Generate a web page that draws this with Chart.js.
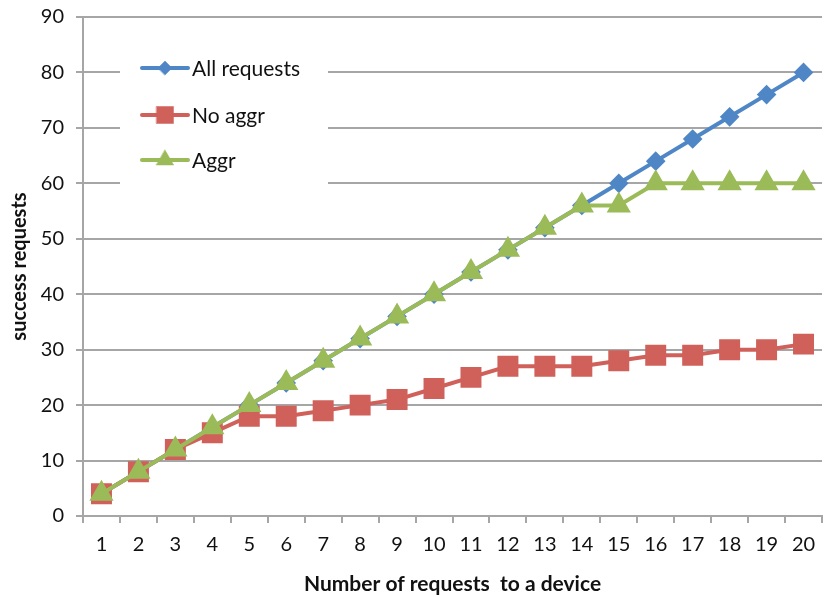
<!DOCTYPE html>
<html>
<head>
<meta charset="utf-8">
<script src="https://cdn.jsdelivr.net/npm/chart.js@4/dist/chart.umd.min.js"></script>
<style>
  html, body { margin: 0; padding: 0; background: #fff; }
  #wrap { width: 824px; height: 597px; }
</style>
</head>
<body>
<div id="wrap"><canvas id="c" width="824" height="597"></canvas></div>
<script>
// Number of requests sent to a device
const requestCounts = ['1','2','3','4','5','6','7','8','9','10','11','12','13','14','15','16','17','18','19','20'];
// Successful requests per strategy
const allRequests = [4, 8, 12, 16, 20, 24, 28, 32, 36, 40, 44, 48, 52, 56, 60, 64, 68, 72, 76, 80];
const noAggr      = [4, 8, 12, 15, 18, 18, 19, 20, 21, 23, 25, 27, 27, 27, 28, 29, 29, 30, 30, 31];
const aggr        = [4, 8, 12, 16, 20, 24, 28, 32, 36, 40, 44, 48, 52, 56, 56, 60, 60, 60, 60, 60];
const seriesNames = ['All requests', 'No aggr', 'Aggr'];
const yTicks = [0, 10, 20, 30, 40, 50, 60, 70, 80, 90];

const BLUE = '#4f86c6', RED = '#d0605a', GREEN = '#9bbb59';
const FONT = 'Lato, "Open Sans", sans-serif';
const GRID = '#a6a6a6';

// Boxed legend drawn inside the plot area, over the gridlines
const insideLegend = {
  id: 'insideLegend',
  beforeDatasetsDraw(chart) {
    const ctx = chart.ctx;
    ctx.save();
    ctx.fillStyle = '#fff';
    ctx.fillRect(120, 38, 208, 156);
    const rows = [68, 115, 160];
    chart.data.datasets.forEach((ds, i) => {
      const y = rows[i];
      ctx.strokeStyle = ds.borderColor;
      ctx.lineWidth = 4;
      ctx.lineCap = 'round';
      ctx.beginPath();
      ctx.moveTo(142, y);
      ctx.lineTo(188, y);
      ctx.stroke();
      ctx.fillStyle = ds.pointBackgroundColor;
      ctx.strokeStyle = ds.pointBackgroundColor;
      ctx.lineWidth = 0.5;
      Chart.helpers.drawPoint(ctx, {
        pointStyle: ds.pointStyle,
        rotation: 0,
        radius: ds.pointRadius,
        borderWidth: 0.5
      }, 165, y);
      ctx.fillStyle = '#111';
      ctx.font = '21px ' + FONT;
      ctx.textBaseline = 'middle';
      ctx.textAlign = 'left';
      ctx.fillText(ds.label, 192, y + 1);
    });
    ctx.restore();
  }
};

new Chart(document.getElementById('c'), {
  type: 'line',
  data: {
    labels: requestCounts,
    datasets: [
      { label: seriesNames[0], data: allRequests, borderColor: BLUE, backgroundColor: BLUE,
        pointBackgroundColor: BLUE, pointBorderColor: BLUE, pointStyle: 'rectRot',
        pointRadius: 7, borderWidth: 4, order: 2 },
      { label: seriesNames[1], data: noAggr, borderColor: RED, backgroundColor: RED,
        pointBackgroundColor: RED, pointBorderColor: RED, pointStyle: 'rect',
        pointRadius: 12, borderWidth: 4, order: 1 },
      { label: seriesNames[2], data: aggr, borderColor: GREEN, backgroundColor: GREEN,
        pointBackgroundColor: GREEN, pointBorderColor: GREEN, pointStyle: 'triangle',
        pointRadius: 10, borderWidth: 4, order: 0 }
    ]
  },
  options: {
    responsive: false,
    animation: false,
    layout: { autoPadding: false, padding: { left: 8, right: 2, top: 17, bottom: 0 } },
    plugins: { legend: { display: false }, tooltip: { enabled: false } },
    elements: { line: { tension: 0 }, point: { borderWidth: 0 } },
    scales: {
      x: {
        offset: true,
        grid: { display: true, offset: true, drawOnChartArea: false, drawTicks: true,
                tickLength: 7, color: GRID, lineWidth: 2 },
        border: { display: true, color: GRID, width: 2 },
        ticks: { color: '#111', font: { family: FONT, size: 20 }, padding: 10, maxRotation: 0, autoSkip: false },
        title: { display: true, text: 'Number of requests  to a device', color: '#111',
                 font: { family: FONT, size: 21, weight: 'bold' }, padding: { top: 8, bottom: 0 } },
        afterFit(s) { s.height = 81; s.paddingLeft = 0; s.paddingRight = 0; }
      },
      y: {
        min: 0, max: 90,
        afterBuildTicks(s) { s.ticks = yTicks.map(v => ({ value: v })); },
        grid: { color: GRID, lineWidth: 2, tickLength: 7, drawTicks: true },
        border: { display: true, color: GRID, width: 2 },
        ticks: { color: '#111', font: { family: FONT, size: 20 }, padding: 12 },
        title: { display: true, text: 'success requests', color: '#111',
                 font: { family: FONT, size: 20, weight: 'bold' }, padding: { top: 0, bottom: 4 } },
        afterFit(s) { s.width = 75; s.paddingTop = 0; s.paddingBottom = 0; }
      }
    }
  },
  plugins: [insideLegend]
});
</script>
</body>
</html>
